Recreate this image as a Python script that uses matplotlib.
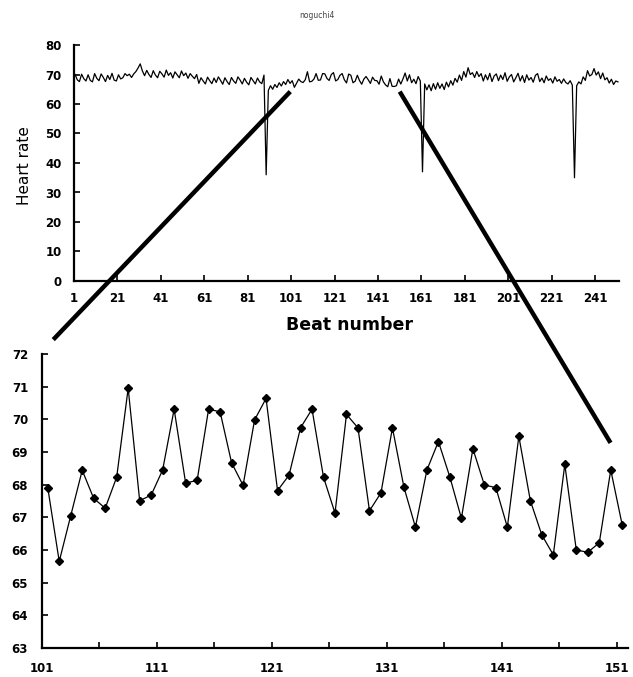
import matplotlib
matplotlib.use("Agg")
import matplotlib.pyplot as plt
import numpy as np
from matplotlib.patches import ConnectionPatch

# heart rate per beat
hr_early = [70.0, 68.2, 67.6, 70.1, 68.6, 67.8, 69.9, 68.0, 67.5, 70.3,
            68.7, 67.9, 70.2, 69.0, 67.6, 69.7, 68.3, 70.4, 68.1, 67.8,
            69.9, 68.5, 68.9, 70.3, 69.6, 70.1, 69.0, 70.2, 71.0, 72.2,
            73.6, 71.2, 69.6, 71.4, 70.0, 69.0, 71.3, 69.8, 68.9, 71.1,
            70.2, 69.1, 71.5, 69.7, 70.6, 68.8, 70.9, 69.9, 68.9, 71.2,
            69.6, 70.5, 68.7, 70.3, 69.4, 68.6, 70.0, 67.0, 68.9, 67.8,
            66.8, 69.1, 67.9, 66.9, 68.8, 67.3, 69.2, 68.0, 66.7, 68.9,
            67.6, 66.6, 69.0, 67.8, 67.0, 69.2, 68.1, 66.8, 68.7, 67.4,
            66.5, 69.0, 67.9, 66.8, 68.8, 67.5, 66.9, 69.8, 36.0, 64.6,
            66.2, 65.0, 66.6, 65.6, 67.2, 66.1, 67.6, 66.6, 68.3, 67.0]

# beats 101-151 (the enlarged part)
hr_zoom = [67.91, 65.65, 67.05, 68.44, 67.58, 67.28, 68.23, 70.95, 67.51, 67.68,
           68.45, 70.31, 68.05, 68.13, 70.31, 70.23, 68.67, 67.98, 69.98, 70.64,
           67.82, 68.29, 69.74, 70.31, 68.23, 67.13, 70.15, 69.74, 67.20, 67.75,
           69.74, 67.92, 66.70, 68.45, 69.32, 68.23, 66.97, 69.10, 67.99, 67.91,
           66.70, 69.48, 67.51, 66.46, 65.85, 68.62, 66.00, 65.93, 66.22, 68.45,
           66.76]

hr_late = [68.5, 70.5, 67.8, 69.9, 67.2, 68.4, 66.9, 69.3, 67.8, 37.0,
           66.8, 64.8, 66.5, 64.5, 66.9, 65.0, 67.2, 65.3, 66.8, 64.9,
           67.4, 65.8, 67.9, 66.4, 68.7, 67.4, 69.8, 68.0, 71.0, 69.1,
           72.3, 70.0, 70.6, 69.0, 71.0, 69.3, 70.3, 67.8, 69.9, 68.2,
           70.4, 67.6, 69.5, 70.2, 67.9, 69.8, 68.3, 70.6, 67.7, 69.2,
           70.0, 67.5, 68.9, 70.4, 67.8, 69.6, 67.3, 69.9, 68.1, 69.0,
           67.4, 69.7, 70.3, 67.6, 68.8, 67.2, 69.5, 68.0, 68.6, 67.1,
           69.2, 67.7, 68.3, 67.0, 68.5, 67.3, 66.8, 67.9, 66.4, 35.0,
           66.2, 67.5, 66.8, 69.2, 68.0, 71.3, 69.5, 70.0, 72.0, 69.8,
           70.9, 68.6, 70.5, 68.2, 68.9, 67.1, 68.4, 66.6, 67.8, 67.5]

heart_rate = np.array(hr_early + hr_zoom + hr_late)
zoom_start = 101

top_ticks = list(range(1, 242, 20))
zoom_ticks = list(range(101, 152, 5))

W, H = 633, 677
fig = plt.figure(figsize=(W / 100, H / 100), dpi=100)

tick_font = dict(family="DejaVu Sans", weight="bold", size=8.5)


def style_axes(ax):
    for side in ("top", "right"):
        ax.spines[side].set_visible(False)
    for side in ("left", "bottom"):
        ax.spines[side].set_linewidth(1.6)
    ax.tick_params(direction="in", length=4, width=1.2)
    for lab in ax.get_xticklabels() + ax.get_yticklabels():
        lab.set_fontproperties(tick_font)


# whole recording
ax1 = fig.add_axes([74 / W, 1 - 281 / H, 545 / W, 236 / H])
n = len(heart_rate)
ax1.plot(np.arange(n) + 0.5, heart_rate, color="black", lw=0.9)
ax1.set_xlim(0, n)
ax1.set_ylim(0, 80)
ax1.set_yticks(range(0, 81, 10))
ax1.set_xticks([t - 1 for t in top_ticks])
ax1.set_xticklabels([str(t) for t in top_ticks])
ax1.tick_params(axis="x", pad=8)
ax1.tick_params(axis="y", pad=9)
style_axes(ax1)

# enlarged beats 101-151
ax2 = fig.add_axes([42 / W, 1 - 648 / H, 586 / W, 294 / H])
m = len(hr_zoom)
ax2.plot(np.arange(m) + 0.5, hr_zoom, color="black", lw=0.9,
         marker="D", markersize=4.4, markerfacecolor="black")
ax2.set_xlim(0, m)
ax2.set_ylim(63, 72)
ax2.set_yticks(range(63, 73))
ax2.set_xticks([t - zoom_start for t in zoom_ticks])
ax2.set_xticklabels([str(t) if (t - zoom_start) % 10 == 0 else "" for t in zoom_ticks])
ax2.tick_params(axis="x", pad=10)
ax2.tick_params(axis="y", pad=10)
style_axes(ax2)

fig.text(317 / W, 1 - 15 / H, "noguchi4", ha="center", va="center",
         fontsize=5.5, color="#444444")
fig.text(25 / W, 1 - 166 / H, "Heart rate", rotation=90, ha="center",
         va="center", fontsize=11)
fig.text(349 / W, 1 - 325 / H, "Beat number", ha="center", va="center",
         fontsize=12.5, weight="bold")

# connector lines from the overview to the enlarged panel
for xa, ya, xb, yb in [(99.6, 64.2, 0.98, 72.44), (150.0, 64.2, 49.48, 69.28)]:
    con = ConnectionPatch(xyA=(xa, ya), coordsA=ax1.transData,
                          xyB=(xb, yb), coordsB=ax2.transData,
                          color="black", lw=3.2, capstyle="butt", zorder=20)
    fig.add_artist(con)

fig.savefig("out.png", dpi=100)
